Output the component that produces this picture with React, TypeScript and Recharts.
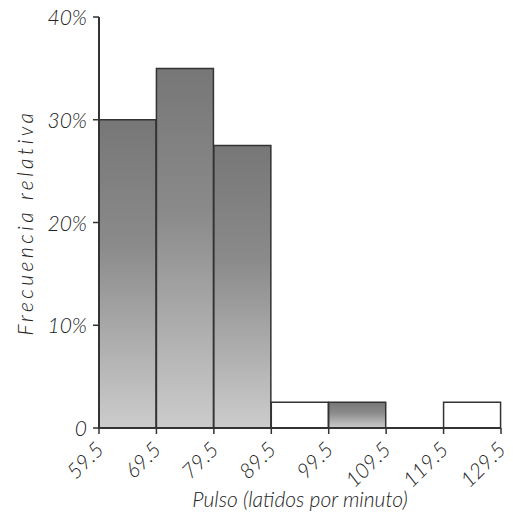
import { BarChart, Bar, XAxis, YAxis, Cell } from 'recharts'

const intervalos = ['59.5-69.5', '69.5-79.5', '79.5-89.5', '89.5-99.5', '99.5-109.5', '109.5-119.5', '119.5-129.5']
const frecuencias = [30, 35, 27.5, 2.5, 2.5, 0, 2.5]
const rellenos = ['grad', 'grad', 'grad', 'white', 'grad', 'white', 'white']
const bordes = [59.5, 69.5, 79.5, 89.5, 99.5, 109.5, 119.5, 129.5]
const yTicks = [0, 10, 20, 30, 40]

const data = intervalos.map((intervalo, i) => ({
  intervalo,
  frecuencia: frecuencias[i],
  relleno: rellenos[i],
}))

const fuente = "'Lato', 'DejaVu Sans', sans-serif"
const textoStyle = { fontFamily: fuente, fontStyle: 'italic', fontWeight: 300, fontSize: 21, fill: '#222' }

const EdgeTick = (props: any) => {
  const { x, y, payload } = props
  const tx = x + 6
  const ty = y + 15
  return (
    <text x={tx} y={ty} textAnchor="end" transform={`rotate(-45 ${tx} ${ty})`} style={textoStyle}>
      {payload.value}
    </text>
  )
}

const PctTick = (props: any) => {
  const { x, y, payload } = props
  return (
    <text x={x - 4} y={y + 8} textAnchor="end" style={textoStyle}>
      {payload.value === 0 ? '0' : `${payload.value}%`}
    </text>
  )
}

export default function App() {
  return (
    <BarChart
      width={505}
      height={509}
      data={data}
      barCategoryGap={0}
      margin={{ top: 9, right: 12, left: 0, bottom: 0 }}
    >
      <defs>
        <linearGradient id="gris" x1="0" y1="0" x2="0" y2="1">
          <stop offset="0%" stopColor="#777" />
          <stop offset="40%" stopColor="#8a8a8a" />
          <stop offset="100%" stopColor="#cccccc" />
        </linearGradient>
      </defs>
      <XAxis dataKey="intervalo" xAxisId="cat" hide height={0} padding={{ left: 0, right: 0 }} />
      <XAxis
        xAxisId="edge"
        type="number"
        dataKey={() => 59.5}
        domain={[59.5, 129.5]}
        ticks={bordes}
        interval={0}
        allowDataOverflow
        height={89}
        tick={<EdgeTick />}
        tickSize={6}
        axisLine={{ stroke: '#333', strokeWidth: 2 }}
        tickLine={{ stroke: '#333', strokeWidth: 1.5 }}
        label={{ value: 'Pulso (latidos por minuto)', position: 'insideBottom', offset: 10, style: textoStyle }}
      />
      <YAxis
        domain={[0, 40]}
        ticks={yTicks}
        width={91}
        tick={<PctTick />}
        tickSize={6}
        axisLine={{ stroke: '#333', strokeWidth: 2 }}
        tickLine={{ stroke: '#333', strokeWidth: 1.5 }}
        label={{
          value: 'Frecuencia relativa',
          angle: -90,
          position: 'insideLeft',
          offset: 18,
          style: { ...textoStyle, textAnchor: 'middle', letterSpacing: 3.5 },
        }}
      />
      <Bar dataKey="frecuencia" xAxisId="cat" stroke="#333" strokeWidth={1.5} isAnimationActive={false}>
        {data.map((d, i) => (
          <Cell key={`c-${i}`} fill={d.relleno === 'grad' ? 'url(#gris)' : '#fff'} />
        ))}
      </Bar>
    </BarChart>
  )
}
